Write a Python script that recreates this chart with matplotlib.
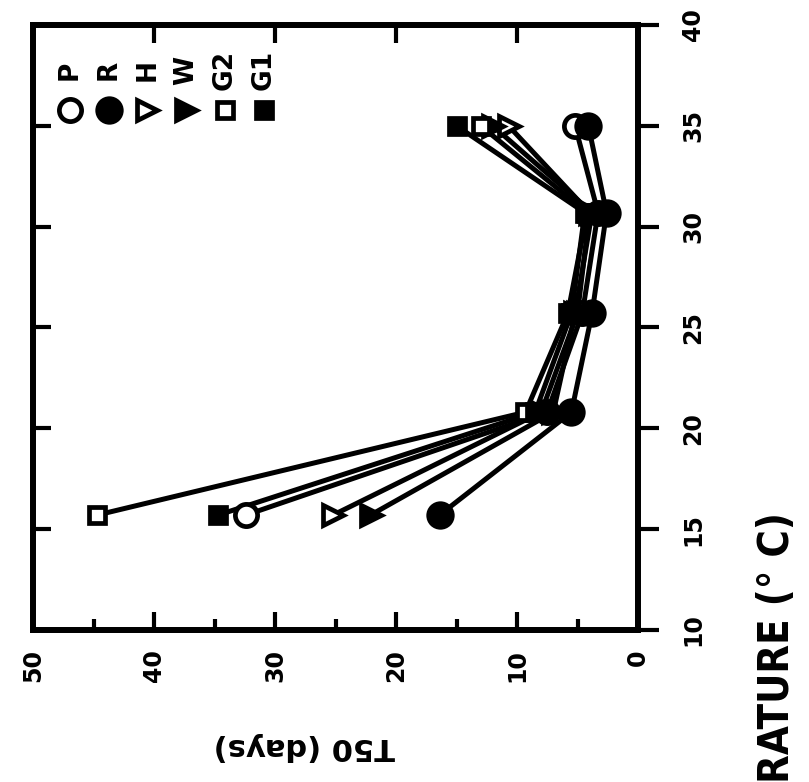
import numpy as np
import matplotlib
matplotlib.use("Agg")
import matplotlib.pyplot as plt
from matplotlib.ticker import MultipleLocator

# incubation temperature (deg C) and time to 50% germination (days) per seed lot
temperature = [15.7, 20.8, 25.7, 30.7, 35.0]
lots = ["P", "R", "H", "W", "G2", "G1"]
t50_P = [32.4, 7.5, 4.6, 3.3, 5.2]
t50_R = [16.4, 5.5, 3.8, 2.6, 4.1]
t50_H = [25.2, 8.0, 5.0, 4.0, 10.7]
t50_W = [22.1, 7.0, 5.2, 3.8, 12.0]
t50_G2 = [44.7, 9.3, 5.8, 4.2, 13.0]
t50_G1 = [34.7, 8.5, 5.5, 4.4, 15.0]
t50 = [t50_P, t50_R, t50_H, t50_W, t50_G2, t50_G1]

temp_ticks = [10, 15, 20, 25, 30, 35, 40]
t50_ticks = [0, 10, 20, 30, 40, 50]

markers = ["o", "o", ">", ">", "s", "s"]
faces = ["white", "black", "white", "black", "white", "black"]
sizes = [16, 17, 14, 14, 12, 12]

plt.rcParams["font.family"] = ["DejaVu Sans"]
plt.rcParams["font.weight"] = "bold"

fig = plt.figure(figsize=(8.09, 7.82), dpi=100)
ax = fig.add_axes([33 / 809, 1 - 630 / 782, 605 / 809, 605 / 782])

# the plot is laid on its side: T50 runs right to left, temperature bottom to top
for vals, m, fc, ms in zip(t50, markers, faces, sizes):
    ax.plot(vals, temperature, color="black", lw=3.6, zorder=2)
    ax.plot(vals, temperature, ls="none", marker=m, ms=ms, mfc=fc,
            mec="black", mew=3.4, zorder=3)

ax.set_xlim(50, 0)
ax.set_ylim(10, 40)
for s in ax.spines.values():
    s.set_linewidth(4.2)

ax.set_xticks(t50_ticks)
ax.xaxis.set_minor_locator(MultipleLocator(5))
ax.tick_params(axis="x", which="major", direction="in", length=13, width=3,
               top=True, labelsize=17, labelrotation=90, pad=14)
ax.tick_params(axis="x", which="minor", direction="in", length=8, width=3,
               top=False)
ax.set_yticks(temp_ticks)
ax.tick_params(axis="y", direction="in", length=13, width=3,
               labelleft=False)

rax = ax.twinx()
rax.set_ylim(10, 40)
rax.set_yticks(temp_ticks)
rax.tick_params(axis="y", direction="out", length=15, width=3,
                labelsize=17, labelrotation=90, pad=16)
for lab in rax.get_yticklabels():
    lab.set_va("center")
for s in rax.spines.values():
    s.set_linewidth(4.2)

# key in the upper left corner: symbols with lot names above them
for i, (name, m, fc, ms) in enumerate(zip(lots, markers, faces, sizes)):
    xk = 0.061 + i * 0.064
    ax.plot(xk, 0.86, marker=m, ms=ms, mfc=fc, mec="black", mew=3.4,
            transform=ax.transAxes, clip_on=False)
    ax.text(xk, 0.925, name, transform=ax.transAxes, rotation=90,
            ha="center", va="center", fontsize=19, fontweight="bold")

fig.text(304 / 809, 1 - 747 / 782, "T50 (days)", rotation=180,
         ha="center", va="center", fontsize=22, fontweight="bold")
fig.text(777 / 809, 1 - 512 / 782, "TEMPERATURE (° C)", rotation=90,
         rotation_mode="anchor", ha="right", va="center", fontsize=30,
         fontweight="bold", fontstretch="condensed")

fig.savefig("out.png", dpi=100)
